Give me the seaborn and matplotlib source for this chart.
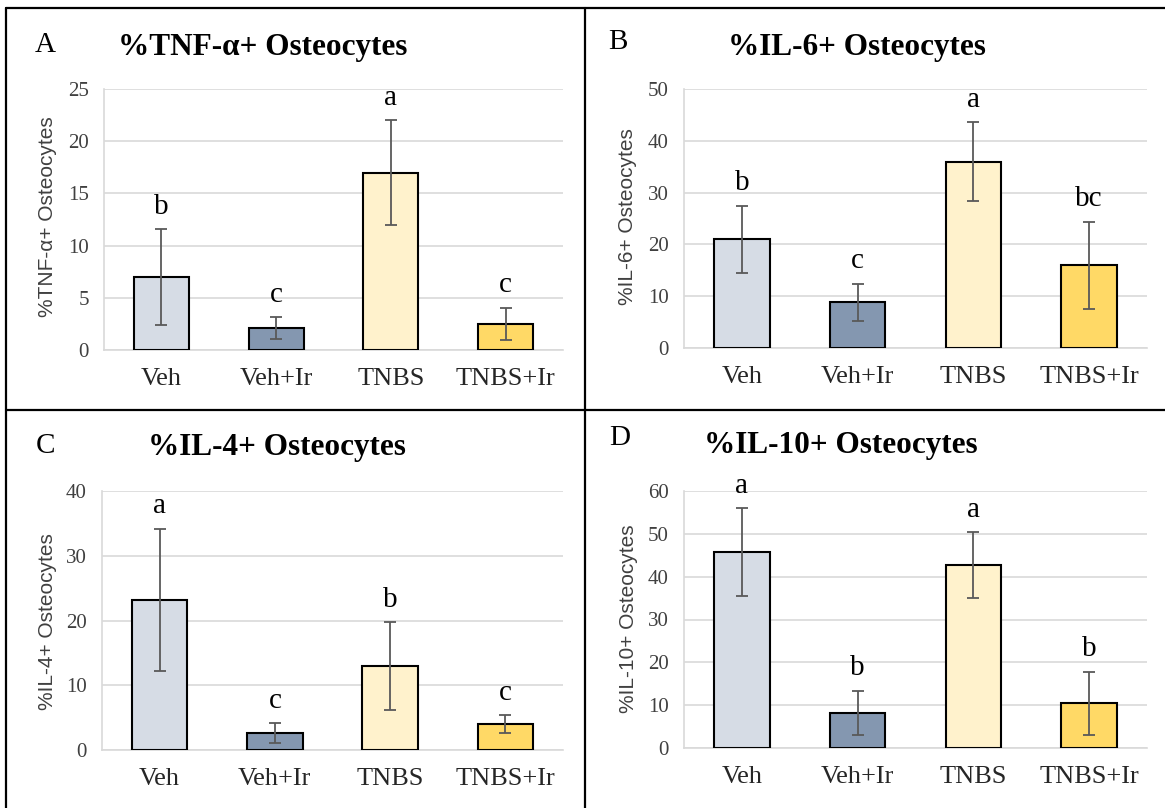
import matplotlib
matplotlib.use("Agg")
import matplotlib.pyplot as plt
from matplotlib.lines import Line2D
import seaborn as sns
import pandas as pd

# ---------------- data ----------------
groups = ["Veh", "Veh+Ir", "TNBS", "TNBS+Ir"]
colors = ["#D6DCE5", "#8497B0", "#FFF2CC", "#FFD966"]

tnf_mean = [7.0, 2.1, 17.0, 2.5]
tnf_err = [4.6, 1.05, 5.0, 1.55]
tnf_sig = ["b", "c", "a", "c"]

il6_mean = [21.0, 8.8, 36.0, 16.0]
il6_err = [6.5, 3.6, 7.6, 8.4]
il6_sig = ["b", "c", "a", "bc"]

il4_mean = [23.2, 2.6, 13.0, 4.0]
il4_err = [11.0, 1.5, 6.8, 1.4]
il4_sig = ["a", "c", "b", "c"]

il10_mean = [45.8, 8.2, 42.7, 10.4]
il10_err = [10.2, 5.2, 7.7, 7.4]
il10_sig = ["a", "b", "a", "b"]

panels = [
    ("A", "%TNF-\u03b1+ Osteocytes", tnf_mean, tnf_err, tnf_sig, [0, 5, 10, 15, 20, 25]),
    ("B", "%IL-6+ Osteocytes", il6_mean, il6_err, il6_sig, [0, 10, 20, 30, 40, 50]),
    ("C", "%IL-4+ Osteocytes", il4_mean, il4_err, il4_sig, [0, 10, 20, 30, 40]),
    ("D", "%IL-10+ Osteocytes", il10_mean, il10_err, il10_sig, [0, 10, 20, 30, 40, 50, 60]),
]

# ---------------- layout (pixels) ----------------
W, H = 1165, 808
sns.set_theme(style="white")
plt.rcParams["font.family"] = ["Liberation Serif", "DejaVu Serif"]

fig = plt.figure(figsize=(W / 100, H / 100), dpi=100)
fig.patch.set_facecolor("white")

def fx(px):
    return px / W

def fy(py):
    return 1 - py / H

# axes boxes: left, right, top, bottom in pixels
boxes = [
    (104, 563, 89, 350),
    (684, 1147, 89, 348),
    (102, 563, 491, 750),
    (684, 1147, 491, 748),
]
letter_pos = [(45, 45), (618, 42), (45, 446), (620, 438)]
title_pos = [(263, 47), (857, 47), (277, 447), (841, 445)]
ylab_x = [57, 637, 57, 638]
ylab_y = [217, 217, 622, 619]

for i, (letter, title, means, errs, sig, ticks) in enumerate(panels):
    l, r, t, b = boxes[i]
    ax = fig.add_axes([fx(l), fy(b), fx(r - l), (b - t) / H])
    df = pd.DataFrame({"group": groups, "value": means})
    sns.barplot(data=df, x="group", y="value", hue="group", palette=colors,
                saturation=1, legend=False, width=0.48, edgecolor="black",
                linewidth=1.5, ax=ax, zorder=3)
    ax.errorbar(range(len(groups)), means, yerr=errs, fmt="none",
                ecolor="#595959", elinewidth=1.3, capsize=4, capthick=1.3,
                zorder=4)
    for j, s in enumerate(sig):
        ax.annotate(s, xy=(j, means[j] + errs[j]), xytext=(0, 11),
                    textcoords="offset points", ha="center", va="baseline",
                    fontsize=21, color="black", annotation_clip=False)
    ax.set_xlim(-0.5, len(groups) - 0.5)
    ax.set_ylim(ticks[0], ticks[-1])
    ax.set_yticks(ticks)
    ax.set_yticklabels([str(v) for v in ticks], fontsize=15, color="#404040")
    ax.tick_params(axis="x", labelsize=19, colors="#262626", pad=13, length=0)
    ax.tick_params(axis="y", pad=11, length=0)
    ax.set_xlabel("")
    ax.yaxis.grid(True, color="#D9D9D9", linewidth=1.2, zorder=0)
    ax.xaxis.grid(False)
    ax.set_axisbelow(True)
    for sp in ["top", "right"]:
        ax.spines[sp].set_visible(False)
    for sp in ["left", "bottom"]:
        ax.spines[sp].set_color("#D9D9D9")
        ax.spines[sp].set_linewidth(1.2)
    ax.set_facecolor("white")
    ax.set_ylabel(title, fontsize=15, color="#404040",
                  family=["Liberation Sans", "DejaVu Sans"])
    ax.yaxis.set_label_coords(fx(ylab_x[i]), fy(ylab_y[i]), transform=fig.transFigure)

    fig.text(fx(letter_pos[i][0]), fy(letter_pos[i][1]), letter, fontsize=21,
             ha="center", va="center", color="black")
    fig.text(fx(title_pos[i][0]), fy(title_pos[i][1]), title, fontsize=22.5,
             fontweight="bold", ha="center", va="center", color="black")

# panel frame lines
lw = 1.6
fig.add_artist(Line2D([fx(6), 1], [fy(8), fy(8)], color="black", lw=lw))
fig.add_artist(Line2D([fx(6), fx(6)], [fy(8), 0], color="black", lw=lw))
fig.add_artist(Line2D([fx(585), fx(585)], [fy(8), 0], color="black", lw=lw))
fig.add_artist(Line2D([fx(6), 1], [fy(410), fy(410)], color="black", lw=lw))

fig.savefig("out.png", dpi=100, facecolor="white")
